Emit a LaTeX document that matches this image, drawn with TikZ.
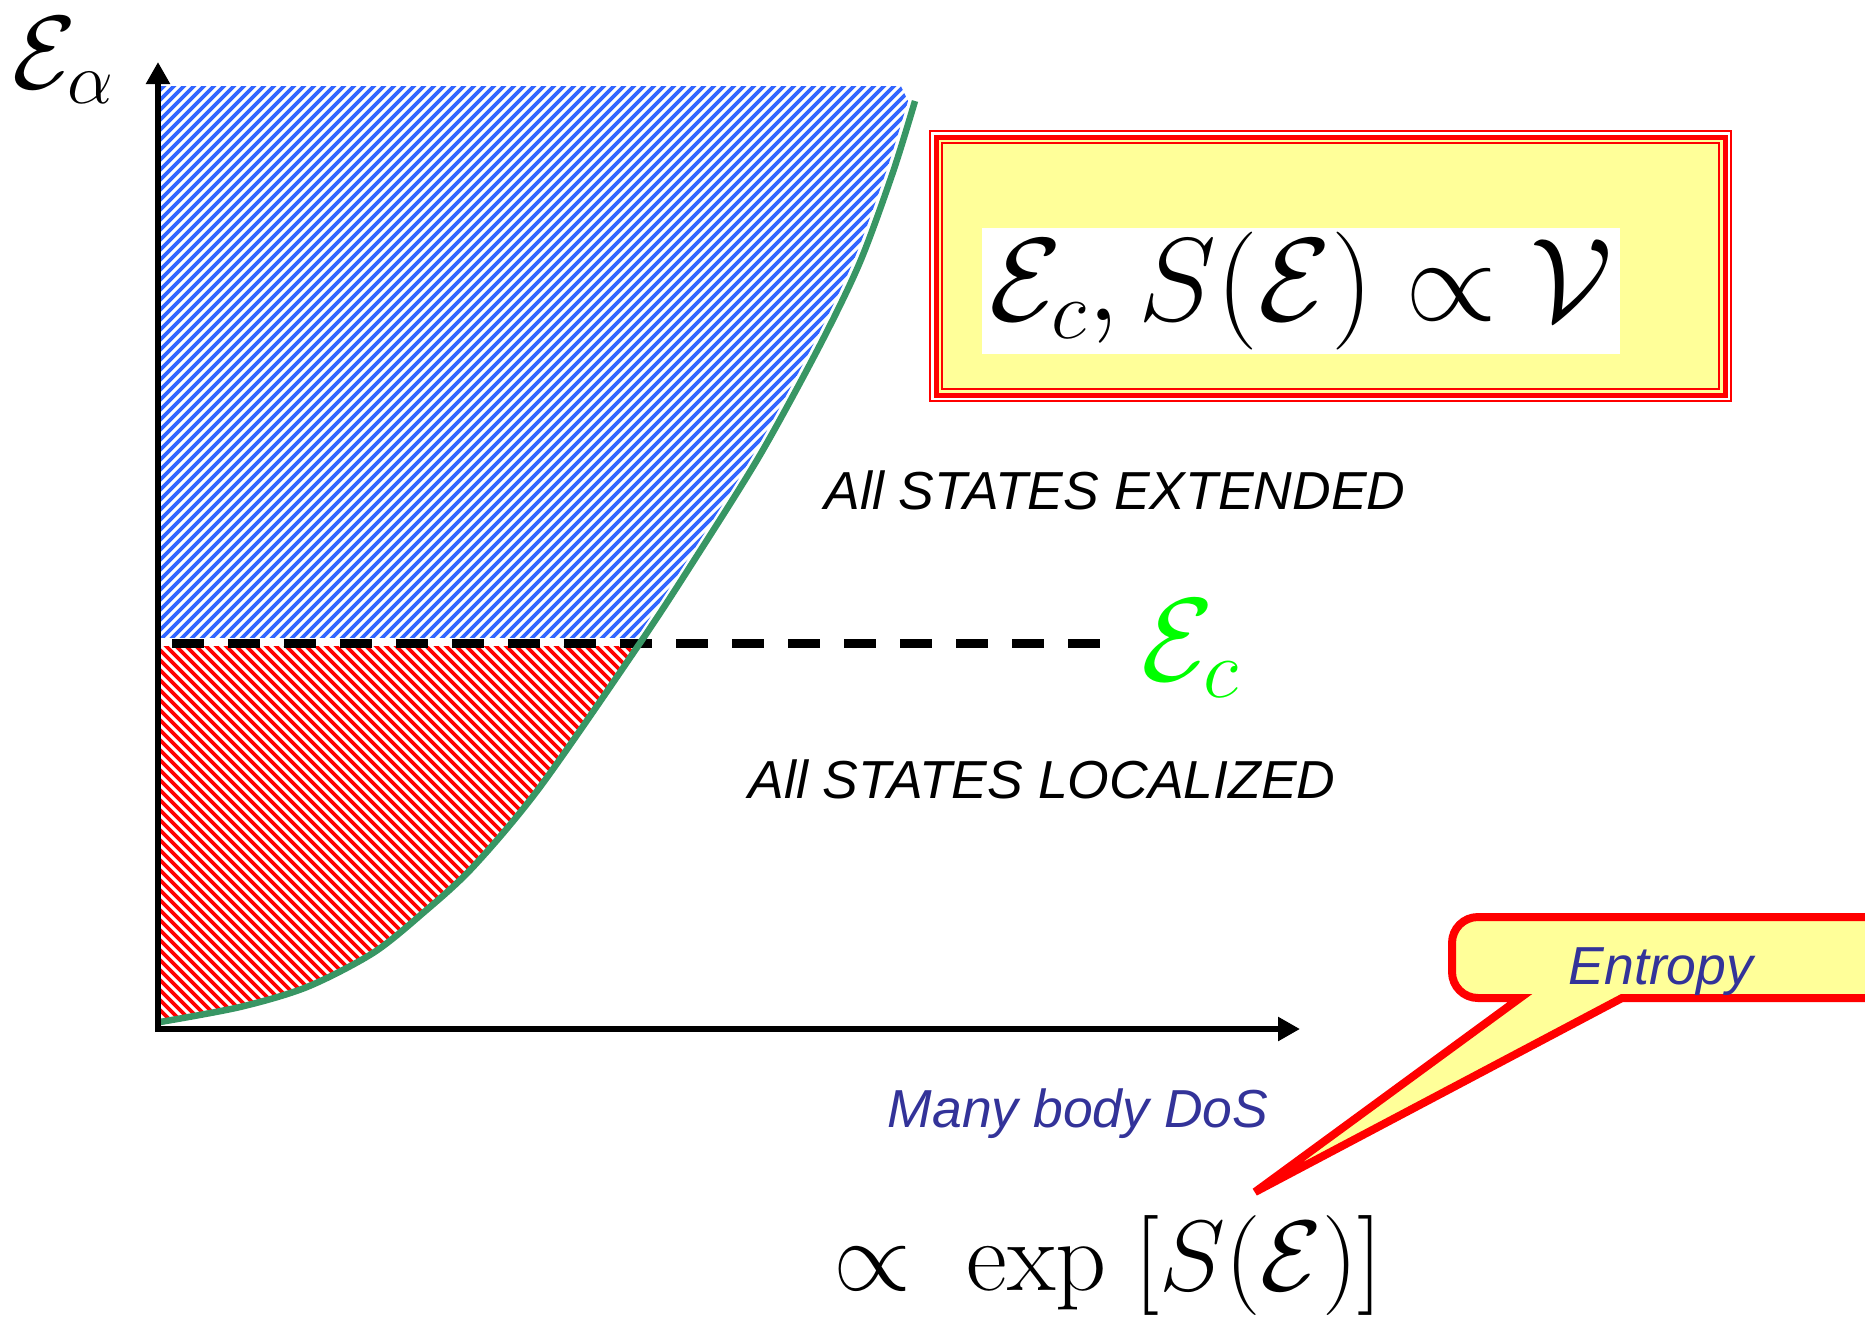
\RequirePackage{fix-cm}
\documentclass[tikz,border=0pt]{standalone}
\usepackage{fontspec}
\newfontfamily\arialfont{Liberation Sans}
\usetikzlibrary{arrows.meta}
\definecolor{dosgreen}{RGB}{56,150,100}
\definecolor{hatchblue}{RGB}{51,102,255}
\definecolor{notegold}{RGB}{255,255,153}
\definecolor{labelblue}{RGB}{51,51,153}
% many body density of states, E as a function of the DoS
\newcommand{\dosline}{plot[smooth] coordinates {(160,1022) (240,1007) (307,987) (373,953) (423,913) (473,867) (540,787) (640,643) (693,562) (760,455) (820,345) (860,262) (893,172) (915,101)}}

\begin{document}
\begin{tikzpicture}[
    x=1pt, y=-1pt,
    axis/.style={line width=6pt, -{Triangle[length=22pt, width=23pt]}},
    doscurve/.style={draw=dosgreen, line width=6.5pt},
    critline/.style={line width=9pt, dash pattern=on 32pt off 24pt},
    bluehatch/.style={draw=hatchblue, line width=3.6pt},
    redhatch/.style={draw=red, line width=3.6pt},
    phase/.style={font=\arialfont\itshape\fontsize{53.5}{60}\selectfont, anchor=base, inner sep=0pt},
    note/.style={phase, text=labelblue},
    mathbig/.style={inner sep=0pt, font=\fontsize{#1}{#1}\selectfont},
    callout/.style={draw=red, line width=8pt, fill=notegold},
]
\useasboundingbox (0,0) rectangle (1865,1318);

% extended states
\begin{scope}
  \clip (161,86) rectangle (1000,637);
  \clip[xshift=-7pt] \dosline -- (905,80) -- (150,80) -- (150,1030) -- cycle;
  \foreach \k in {0,...,140}
    \draw[bluehatch] (-450+10*\k,640) -- (150+10*\k,40);
\end{scope}

% localized states
\begin{scope}
  \clip (161,646) rectangle (700,1030);
  \clip \dosline -- (905,80) -- (150,80) -- (150,1030) -- cycle;
  \foreach \k in {0,...,95}
    \draw[redhatch] (-300+10*\k,640) -- (100+10*\k,1040);
\end{scope}

\coordinate (o) at (158,1029);
\coordinate (etop) at (158,62);
\coordinate (xend) at (1300,1029);
\coordinate (ecstart) at (172,643);
\coordinate (ecend) at (1104,643);

\draw[critline] (ecstart) -- (ecend);
\draw[doscurve] \dosline;
\draw[axis, shorten <=-3pt] (o) -- (etop);
\draw[axis, shorten <=-3pt] (o) -- (xend);

\node[mathbig=104, anchor=base west] (ealpha) at (12,88) {$\mathcal{E}_\alpha$};
\node[mathbig=118, anchor=base west, text=green] (ec) at (1141,680) {$\mathcal{E}_c$};

\node[phase] (ext) at (1115,509) {All STATES EXTENDED};
\node[phase] (loc) at (1042,798) {All STATES LOCALIZED};
\node[note] (dos) at (1078,1127) {Many body DoS};

% scaling box
\draw[red, line width=2pt] (930,131) rectangle (1731,401);
\draw[red, line width=5pt, fill=notegold] (936,137) rectangle (1725,395);
\draw[red, line width=2.5pt] (942,143) rectangle (1719,389);
\node[mathbig=118, fill=white, minimum width=638pt, minimum height=126pt] (scaling) at (1301,291)
  {$\mathcal{E}_c, S(\mathcal{E}) \propto \mathcal{V}$};

% entropy callout
\coordinate (tip) at (1255,1192);
\draw[callout] (tip) -- (1520,998) [rounded corners=26pt] -- (1452,998) -- (1452,917)
  -- (1910,917) -- (1910,998) [sharp corners] -- (1622,998) -- cycle;
\node[note] (entropy) at (1661,984) {Entropy};

\node[mathbig=100, anchor=base] (dosform) at (1108,1290) {$\propto\;\exp\;[S(\mathcal{E})]$};
\end{tikzpicture}
\end{document}
